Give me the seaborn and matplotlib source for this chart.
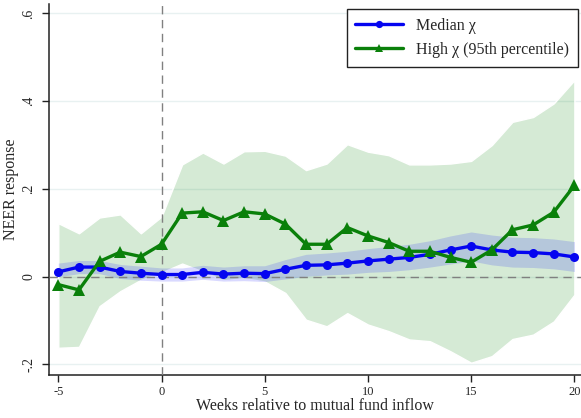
import matplotlib
matplotlib.use("Agg")
import matplotlib.pyplot as plt
import seaborn as sns
import pandas as pd

weeks = list(range(-5, 21))
median = [0.011, 0.022, 0.022, 0.012, 0.008, 0.005, 0.005, 0.010, 0.006, 0.008, 0.007, 0.017, 0.026,
          0.027, 0.031, 0.036, 0.040, 0.044, 0.051, 0.061, 0.070, 0.061, 0.056, 0.055, 0.052, 0.045]
median_hi = [0.031, 0.037, 0.037, 0.028, 0.024, 0.020, 0.020, 0.026, 0.022, 0.025, 0.025, 0.039, 0.051,
             0.054, 0.058, 0.064, 0.069, 0.074, 0.082, 0.093, 0.102, 0.095, 0.090, 0.089, 0.086, 0.080]
median_lo = [0.000, 0.007, 0.007, -0.004, -0.008, -0.010, -0.010, -0.006, -0.010, -0.009, -0.011, -0.005, 0.001,
             0.004, 0.006, 0.010, 0.012, 0.016, 0.022, 0.029, 0.036, 0.027, 0.022, 0.021, 0.018, 0.012]
high = [-0.018, -0.030, 0.035, 0.056, 0.046, 0.074, 0.145, 0.148, 0.128, 0.148, 0.143, 0.120, 0.074,
        0.074, 0.112, 0.093, 0.078, 0.058, 0.058, 0.044, 0.033, 0.061, 0.107, 0.118, 0.147, 0.208]
high_hi = [0.122, 0.099, 0.135, 0.142, 0.099, 0.137, 0.256, 0.283, 0.258, 0.286, 0.287, 0.276, 0.243,
           0.258, 0.302, 0.285, 0.277, 0.256, 0.256, 0.258, 0.264, 0.300, 0.353, 0.364, 0.395, 0.448]
high_lo = [-0.162, -0.160, -0.067, -0.033, -0.007, 0.010, 0.030, 0.012, -0.008, -0.003, -0.011, -0.037, -0.098,
           -0.113, -0.083, -0.109, -0.124, -0.143, -0.147, -0.170, -0.196, -0.181, -0.142, -0.132, -0.102, -0.041]

x_ticks = [-5, 0, 5, 10, 15, 20]
y_ticks = [-0.2, 0, 0.2, 0.4, 0.6]
y_tick_labels = ["-.2", "0", ".2", ".4", ".6"]
label_median = "Median \u03c7"
label_high = "High \u03c7 (95th percentile)"
x_label = "Weeks relative to mutual fund inflow"
y_label = "NEER response"

df = pd.DataFrame({"week": weeks, "median": median, "high": high})

sns.set_style("white")
plt.rcParams["font.family"] = ["Liberation Serif", "DejaVu Serif"]

fig = plt.figure(figsize=(5.81, 4.18), dpi=100)
ax = fig.add_axes([49 / 581, 1 - 375 / 418, (581 - 49) / 581, (375 - 4) / 418])

GREEN = "#0a800a"
BLUE = "#0505f0"

for yv in y_ticks:
    ax.axhline(yv, color="#e8f1f1", lw=1.0, zorder=0)

ax.fill_between(weeks, high_lo, high_hi, color=(0, 0.5, 0, 0.165), edgecolor="white", lw=1.0, zorder=1)
ax.fill_between(weeks, median_lo, median_hi, color=(0, 0, 1, 0.15), lw=0, zorder=2)

ax.axhline(0, color="#808080", lw=1.0, ls=(0, (6, 4)), zorder=3)
ax.axvline(0, color="#808080", lw=1.0, ls=(0, (6, 4)), zorder=3)

sns.lineplot(data=df, x="week", y="median", ax=ax, color=BLUE, lw=2.4, marker="o", markersize=6.5,
             markeredgewidth=0, label=label_median, zorder=5)
sns.lineplot(data=df, x="week", y="high", ax=ax, color=GREEN, lw=2.4, marker="^", markersize=8,
             markeredgewidth=0, label=label_high, zorder=6)

ax.set_xlim(-5.45, 20.32)
ax.set_ylim(-0.224, 0.6216)
ax.set_xticks(x_ticks)
ax.set_xticklabels([str(v) for v in x_ticks], fontsize=9)
ax.set_yticks(y_ticks)
ax.set_yticklabels(y_tick_labels, fontsize=10, rotation=90, va="center")

for s in ["top", "right"]:
    ax.spines[s].set_visible(False)
for s in ["left", "bottom"]:
    ax.spines[s].set_color("#222222")
    ax.spines[s].set_linewidth(1.1)

ax.tick_params(axis="y", direction="out", length=5, width=1, color="#222222", pad=5, left=True)
ax.tick_params(axis="x", direction="out", length=5, width=1, color="#222222", pad=3, bottom=True)

ax.set_xlabel(x_label, fontsize=11.5, labelpad=0)
ax.set_ylabel(y_label, fontsize=11.5, labelpad=2)

leg = ax.legend(loc="upper right", bbox_to_anchor=(0.994, 0.986), borderaxespad=0, fontsize=11.5,
                frameon=True, fancybox=False, framealpha=1, edgecolor="#222222",
                handlelength=3.0, labelspacing=0.5, borderpad=0.55, markerscale=0.8)
leg.get_frame().set_linewidth(1.0)

fig.savefig("out.png", dpi=100)
